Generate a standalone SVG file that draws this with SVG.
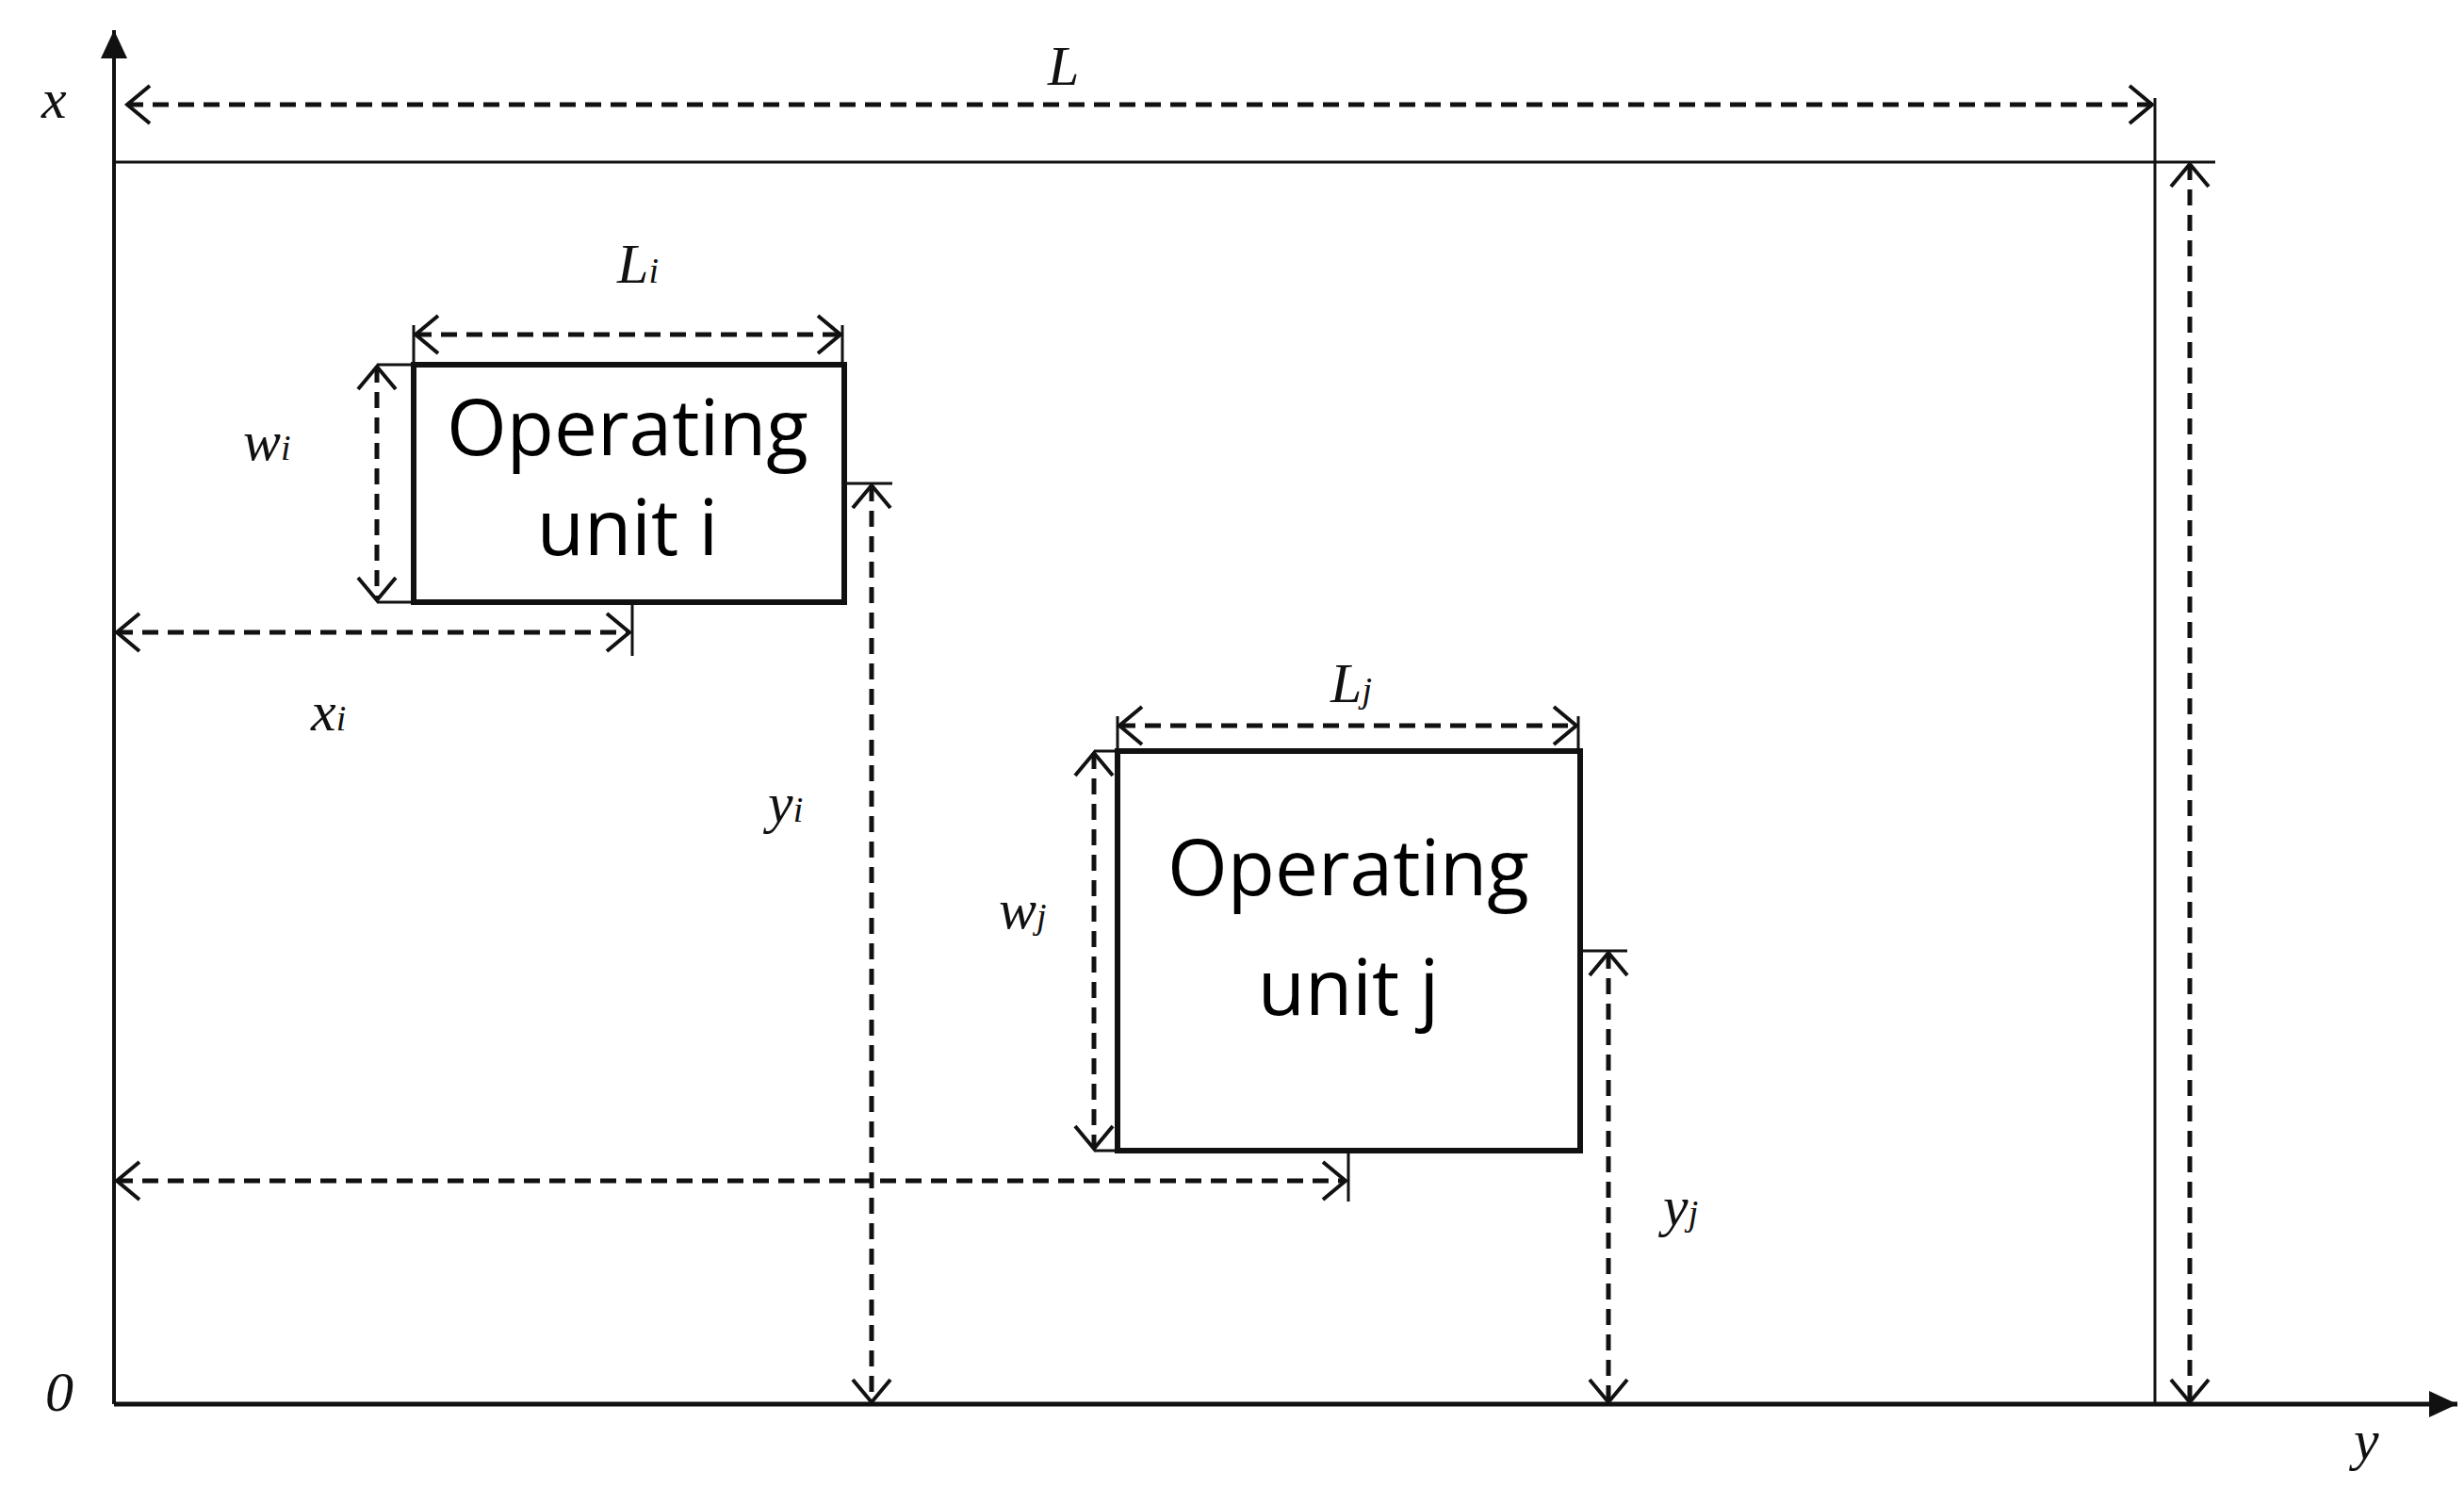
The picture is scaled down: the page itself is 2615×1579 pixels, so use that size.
<svg xmlns="http://www.w3.org/2000/svg" width="2615" height="1579" viewBox="0 0 2615 1579">
<style>
.ln{stroke:#111;stroke-width:3;fill:none}
.dim{stroke:#111;stroke-width:5;fill:none;stroke-dasharray:17 10;marker-start:url(#oa);marker-end:url(#oa)}
.box{stroke:#111;stroke-width:6;fill:#fff}
.bt{font-family:"Open Sans","Noto Sans",sans-serif;font-size:82px;fill:#000;text-anchor:middle}
.lb{font-family:"Liberation Serif",serif;font-style:italic;font-size:60px;fill:#111}
.sb{font-size:38px}
</style>
<defs>
<marker id="oa" markerUnits="userSpaceOnUse" markerWidth="60" markerHeight="60" viewBox="-30 -30 60 60" refX="0" refY="0" orient="auto-start-reverse">
<path d="M-24,-20 L0,0 L-24,20" fill="none" stroke="#111" stroke-width="4"/>
</marker>
<marker id="sa" markerUnits="userSpaceOnUse" markerWidth="60" markerHeight="60" viewBox="-30 -30 60 60" refX="0" refY="0" orient="auto">
<path d="M-30,-14 L0,0 L-30,14 Z" fill="#111"/>
</marker>
</defs>
<g id="frame">
<line class="ln" x1="121" y1="1490" x2="121" y2="32" marker-end="url(#sa)" style="stroke-width:4"/>
<line class="ln" x1="121" y1="1490" x2="2608" y2="1490" marker-end="url(#sa)" style="stroke-width:5"/>
<line class="ln" x1="121" y1="172" x2="2351" y2="172"/>
<line class="ln" x1="2287" y1="104" x2="2287" y2="1490"/>
</g>
<g id="unit-i">
<rect class="box" x="439" y="387" width="457" height="252"/>
<text class="bt" x="666" y="483">Operating</text>
<text class="bt" x="666" y="589">unit i</text>
</g>
<g id="unit-j">
<rect class="box" x="1186" y="797" width="491" height="424"/>
<text class="bt" x="1431" y="950">Operating</text>
<text class="bt" x="1431" y="1077">unit j</text>
</g>
<g id="connectors">
<line class="dim" x1="135" y1="111" x2="2284" y2="111"/>
<line class="dim" x1="2324" y1="174" x2="2324" y2="1488"/>
<line class="ln" x1="439" y1="345" x2="439" y2="387"/>
<line class="ln" x1="894" y1="345" x2="894" y2="387"/>
<line class="dim" x1="441" y1="355" x2="892" y2="355"/>
<line class="ln" x1="400" y1="387" x2="439" y2="387"/>
<line class="ln" x1="400" y1="639" x2="439" y2="639"/>
<line class="dim" x1="400" y1="389" x2="400" y2="637"/>
<line class="ln" x1="671" y1="639" x2="671" y2="696"/>
<line class="dim" x1="124" y1="671" x2="668" y2="671"/>
<line class="ln" x1="896" y1="513" x2="947" y2="513"/>
<line class="dim" x1="925" y1="515" x2="925" y2="1488"/>
<line class="ln" x1="1186" y1="760" x2="1186" y2="797"/>
<line class="ln" x1="1675" y1="760" x2="1675" y2="797"/>
<line class="dim" x1="1188" y1="770" x2="1673" y2="770"/>
<line class="ln" x1="1161" y1="797" x2="1186" y2="797"/>
<line class="ln" x1="1161" y1="1221" x2="1186" y2="1221"/>
<line class="dim" x1="1161" y1="799" x2="1161" y2="1219"/>
<line class="ln" x1="1431" y1="1221" x2="1431" y2="1275"/>
<line class="dim" x1="124" y1="1253" x2="1428" y2="1253"/>
<line class="ln" x1="1677" y1="1009" x2="1727" y2="1009"/>
<line class="dim" x1="1707" y1="1011" x2="1707" y2="1488"/>
</g>
<g id="labels">
<text class="lb" x="44" y="125">x</text>
<text class="lb" x="48" y="1497">0</text>
<text class="lb" x="2498" y="1548">y</text>
<text class="lb" x="1112" y="90">L</text>
<text class="lb" x="655" y="300">L<tspan class="sb">i</tspan></text>
<text class="lb" x="258" y="488">w<tspan class="sb">i</tspan></text>
<text class="lb" x="330" y="775">x<tspan class="sb">i</tspan></text>
<text class="lb" x="815" y="872">y<tspan class="sb">i</tspan></text>
<text class="lb" x="1412" y="745">L<tspan class="sb">j</tspan></text>
<text class="lb" x="1060" y="985">w<tspan class="sb">j</tspan></text>
<text class="lb" x="1765" y="1300">y<tspan class="sb">j</tspan></text>
</g>
</svg>
